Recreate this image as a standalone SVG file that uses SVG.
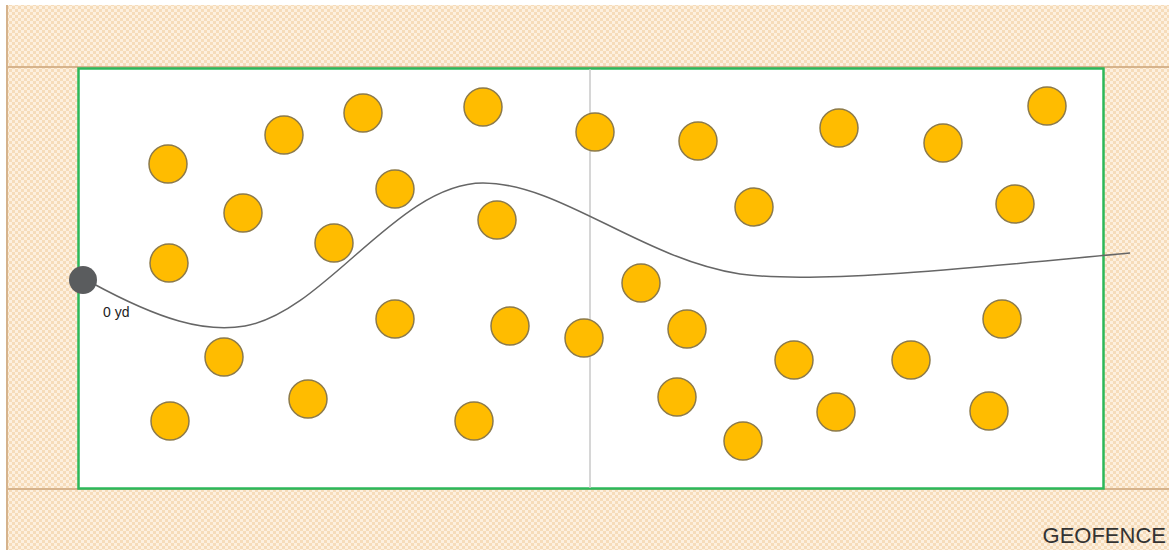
<svg xmlns="http://www.w3.org/2000/svg" width="1169" height="550" viewBox="0 0 1169 550">
<defs>
<pattern id="hatch" width="6" height="6" patternUnits="userSpaceOnUse">
<rect width="6" height="6" fill="#fdf0df"/>
<rect x="0" y="0" width="3" height="3" fill="#f6dcba"/>
<rect x="3" y="3" width="3" height="3" fill="#f6dcba"/>
</pattern>
<style>
.ball{fill:#ffbc00;stroke:#8c7a4a;stroke-width:1.5}
.band{stroke:#d6b38c;stroke-width:2;fill:none}
</style>
</defs>
<rect x="0" y="0" width="1169" height="550" fill="#ffffff"/>
<rect x="7" y="5" width="1162" height="545" fill="url(#hatch)"/>
<g id="geofence">
<line class="band" x1="7" y1="5" x2="7" y2="550"/>
<line class="band" x1="7" y1="67" x2="1169" y2="67"/>
<line class="band" x1="7" y1="489" x2="1169" y2="489"/>
<text x="1166" y="543" font-family="Liberation Sans, Arial, sans-serif" font-size="22" fill="#333" text-anchor="end">GEOFENCE</text>
</g>
<g id="field">
<rect x="78.5" y="68.5" width="1025" height="420" fill="#ffffff" stroke="#2db85a" stroke-width="2.5"/>
<line x1="590" y1="69" x2="590" y2="488" stroke="#c8c8c8" stroke-width="1.5"/>
</g>
<g id="connectors">
<path d="M 92,283 C 160,320 205,333 245,326 C 325,312 398,183 483,183 C 560,183 640,258 740,274 C 820,285 1000,265 1130,253" fill="none" stroke="#666" stroke-width="1.5"/>
</g>
<g id="defenders">
<circle class="ball" cx="168" cy="164" r="19"/>
<circle class="ball" cx="284" cy="135" r="19"/>
<circle class="ball" cx="363" cy="113" r="19"/>
<circle class="ball" cx="483" cy="107" r="19"/>
<circle class="ball" cx="595" cy="132" r="19"/>
<circle class="ball" cx="698" cy="141" r="19"/>
<circle class="ball" cx="839" cy="128" r="19"/>
<circle class="ball" cx="943" cy="143" r="19"/>
<circle class="ball" cx="1047" cy="106" r="19"/>
<circle class="ball" cx="243" cy="213" r="19"/>
<circle class="ball" cx="395" cy="189" r="19"/>
<circle class="ball" cx="497" cy="220" r="19"/>
<circle class="ball" cx="754" cy="207" r="19"/>
<circle class="ball" cx="1015" cy="204" r="19"/>
<circle class="ball" cx="169" cy="263" r="19"/>
<circle class="ball" cx="334" cy="243" r="19"/>
<circle class="ball" cx="641" cy="283" r="19"/>
<circle class="ball" cx="395" cy="319" r="19"/>
<circle class="ball" cx="510" cy="326" r="19"/>
<circle class="ball" cx="584" cy="338" r="19"/>
<circle class="ball" cx="687" cy="329" r="19"/>
<circle class="ball" cx="1002" cy="319" r="19"/>
<circle class="ball" cx="224" cy="357" r="19"/>
<circle class="ball" cx="794" cy="360" r="19"/>
<circle class="ball" cx="911" cy="360" r="19"/>
<circle class="ball" cx="170" cy="421" r="19"/>
<circle class="ball" cx="308" cy="399" r="19"/>
<circle class="ball" cx="474" cy="421" r="19"/>
<circle class="ball" cx="677" cy="397" r="19"/>
<circle class="ball" cx="836" cy="412" r="19"/>
<circle class="ball" cx="989" cy="411" r="19"/>
<circle class="ball" cx="743" cy="441" r="19"/>
</g>
<g id="runner">
<circle cx="83" cy="280" r="14" fill="#5a5c5e"/>
<text x="103" y="317" font-family="Liberation Sans, Arial, sans-serif" font-size="14" fill="#222">0 yd</text>
</g>
</svg>
